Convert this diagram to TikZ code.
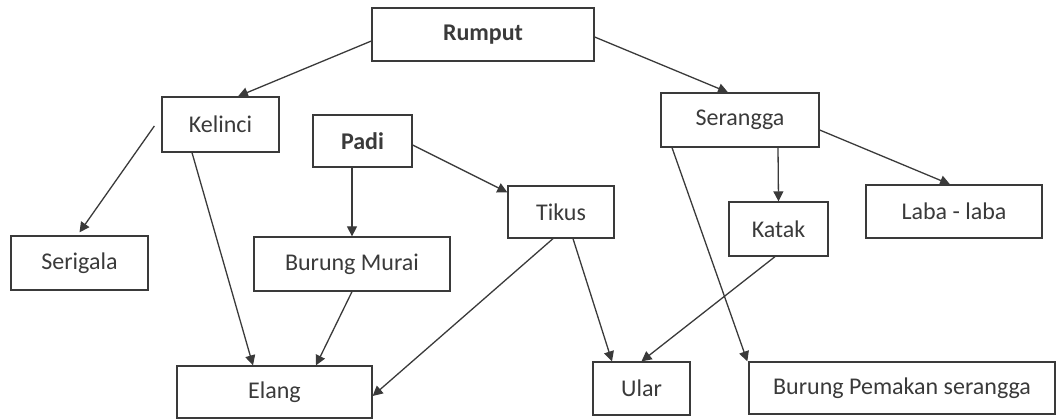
\documentclass[tikz,border=0pt]{standalone}
\usepackage{fontspec}
\setmainfont{Carlito}
\usetikzlibrary{arrows.meta}
\definecolor{ink}{HTML}{3A3A3A}
\begin{document}
\begin{tikzpicture}[x=1pt,y=-1pt,
  box/.style={draw=ink,line width=1.3pt,text=ink,inner sep=0pt,font=\fontsize{24}{28}\selectfont},
  link/.style={draw=ink,line width=1.3pt,-{Triangle[length=10pt,width=10pt]}}]
\useasboundingbox (0,0) rectangle (1056,419);
\node[box,minimum width=222pt,minimum height=53pt,font=\fontsize{24}{28}\selectfont\bfseries] (rumput) at (483,34.5) {Rumput};
\node[box,minimum width=117pt,minimum height=55pt] (kelinci) at (220.5,124.5) {Kelinci};
\node[box,minimum width=99pt,minimum height=52pt,font=\fontsize{24}{28}\selectfont\bfseries] (padi) at (362.5,141) {Padi};
\node[box,minimum width=158pt,minimum height=54pt] (serangga) at (740,120) {Serangga};
\node[box,minimum width=106pt,minimum height=52pt] (tikus) at (561,212) {Tikus};
\node[box,minimum width=99pt,minimum height=54pt] (katak) at (778.5,229) {Katak};
\node[box,minimum width=176pt,minimum height=53pt] (laba) at (954,211.5) {Laba - laba};
\node[box,minimum width=137pt,minimum height=54pt] (serigala) at (79.5,263) {Serigala};
\node[box,minimum width=196pt,minimum height=54pt] (murai) at (352,264) {Burung Murai};
\node[box,minimum width=195pt,minimum height=52pt] (elang) at (274.5,392) {Elang};
\node[box,minimum width=97pt,minimum height=53pt] (ular) at (641.5,388.5) {Ular};
\node[box,minimum width=306pt,minimum height=52pt] (bp) at (902,388) {Burung Pemakan serangga};

\draw[link] ([yshift=-6.5pt]rumput.west) -- ([xshift=17.5pt]kelinci.north);
\draw[link] ([yshift=-2.5pt]rumput.east) -- ([xshift=-12pt]serangga.north);
\draw[link] ([xshift=-7pt,yshift=-1.5pt]kelinci.west) -- ([yshift=3pt]serigala.north);
\draw[link] ([xshift=-28.5pt]kelinci.south) -- ([xshift=-21.5pt]elang.north);
\draw[link] ([xshift=-10.5pt]padi.south) -- (murai.north);
\draw[link] ([yshift=-4pt]padi.east) -- ([yshift=-7pt]tikus.north west);
\draw[link] (murai.south) -- ([xshift=41.5pt]elang.north);
\draw[link] ([xshift=-8pt]tikus.south) -- ([yshift=-4pt]elang.east);
\draw[link] ([xshift=12pt]tikus.south) -- ([xshift=-29.5pt]ular.north);
\draw[link] ([xshift=-3.5pt]katak.south) -- (ular.north);
\draw[link] ([xshift=-68pt]serangga.south) -- ([xshift=-1pt]bp.north west);
\draw[link] ([xshift=38pt]serangga.south) -- (katak.north);
\draw[link] ([yshift=-10pt]serangga.east) -- ([xshift=-4pt]laba.north);
\end{tikzpicture}
\end{document}
